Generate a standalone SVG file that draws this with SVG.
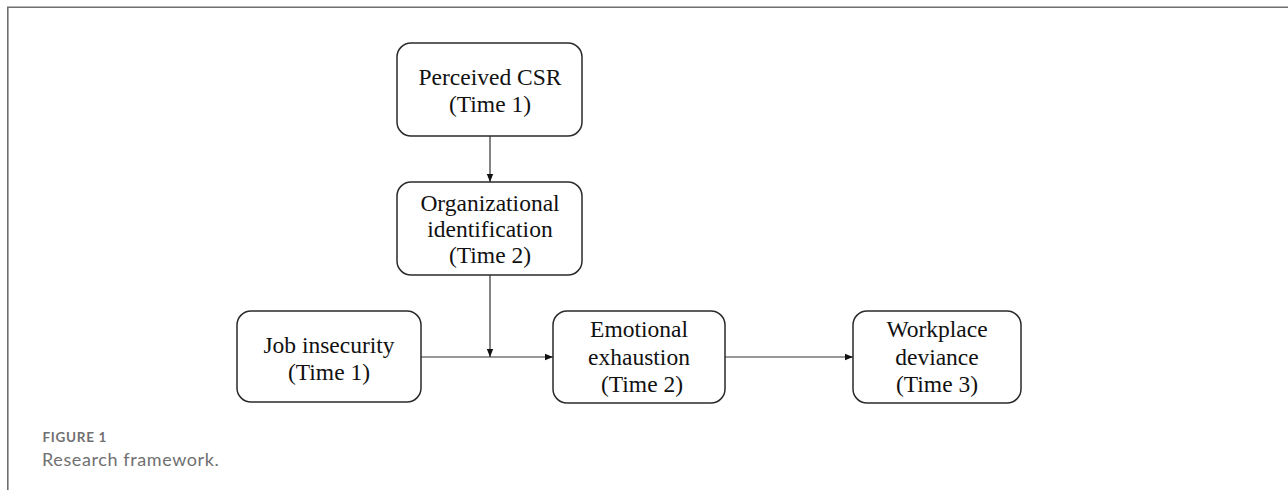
<svg xmlns="http://www.w3.org/2000/svg" width="1288" height="490" viewBox="0 0 1288 490">
  <defs>
    <style>
      .box { fill: #ffffff; stroke: #2a2a2a; stroke-width: 1.5; }
      .lbl { font-family: "Liberation Serif", "Times New Roman", serif; font-size: 23.5px; fill: #111111; text-anchor: middle; }
      .edge { stroke: #333333; stroke-width: 1.2; fill: none; marker-end: url(#arrow); }
      .frame { stroke: #6e6e6e; stroke-width: 1.6; fill: none; }
      .figno { font-family: Lato, "Open Sans", "Liberation Sans", sans-serif; font-weight: 700; font-size: 13.5px; fill: #707070; letter-spacing: 0.7px; }
      .caption { font-family: Lato, "Open Sans", "Liberation Sans", sans-serif; font-size: 18px; fill: #707070; letter-spacing: 0.6px; }
    </style>
    <marker id="arrow" markerUnits="userSpaceOnUse" markerWidth="8" markerHeight="8" viewBox="0 0 8 8" refX="8" refY="4" orient="auto">
      <path d="M0,0.8 L8,4 L0,7.2 Z" fill="#111111"/>
    </marker>
  </defs>
  <rect width="1288" height="490" fill="#ffffff"/>
  <path class="frame" d="M7.8,490 L7.8,7.3 L1288,7.3"/>

  <g id="connectors">
    <line class="edge" x1="490" y1="136" x2="490" y2="182"/>
    <line class="edge" x1="490" y1="275" x2="490" y2="357"/>
    <line class="edge" x1="421" y1="357" x2="553" y2="357"/>
    <line class="edge" x1="725" y1="357" x2="853" y2="357"/>
  </g>

  <g id="node-csr">
    <rect class="box" x="397" y="43" width="185" height="93" rx="14"/>
    <text class="lbl" x="490" y="85">Perceived CSR</text>
    <text class="lbl" x="490" y="112">(Time 1)</text>
  </g>
  <g id="node-orgid">
    <rect class="box" x="397" y="182" width="185" height="93" rx="14"/>
    <text class="lbl" x="490" y="211">Organizational</text>
    <text class="lbl" x="490" y="237">identification</text>
    <text class="lbl" x="490" y="263">(Time 2)</text>
  </g>
  <g id="node-jobinsecurity">
    <rect class="box" x="237" y="311" width="184" height="91" rx="14"/>
    <text class="lbl" x="329" y="353">Job insecurity</text>
    <text class="lbl" x="329" y="380">(Time 1)</text>
  </g>
  <g id="node-exhaustion">
    <rect class="box" x="553" y="311" width="172" height="92" rx="14"/>
    <text class="lbl" x="639" y="337">Emotional</text>
    <text class="lbl" x="639" y="365">exhaustion</text>
    <text class="lbl" x="642" y="392">(Time 2)</text>
  </g>
  <g id="node-deviance">
    <rect class="box" x="853" y="311" width="168" height="92" rx="14"/>
    <text class="lbl" x="937" y="337">Workplace</text>
    <text class="lbl" x="937" y="365">deviance</text>
    <text class="lbl" x="937" y="392">(Time 3)</text>
  </g>

  <text class="figno" x="42.5" y="442">FIGURE 1</text>
  <text class="caption" x="42" y="465.5">Research framework.</text>
</svg>
